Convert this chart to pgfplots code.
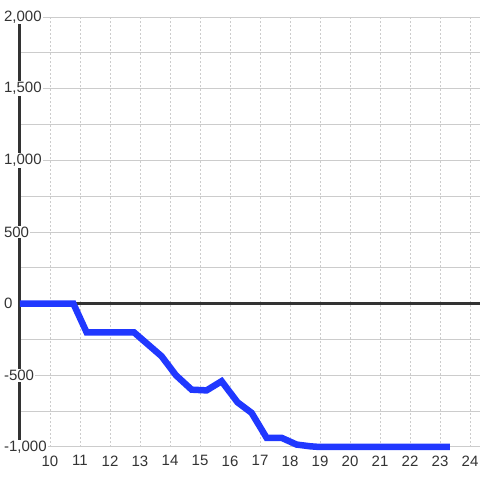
\documentclass[border=0pt]{standalone}
\usepackage{fontspec}
\setmainfont{Liberation Sans}
\usepackage{pgfplots}
\pgfplotsset{compat=1.18}
\definecolor{txt}{HTML}{333333}
\definecolor{gridc}{HTML}{CCCCCC}
\definecolor{lineblue}{RGB}{32,56,255}
\pgfplotsset{
    layers/labelsup/.define layer set={
        axis background,axis grid,axis lines,pre main,main,
        axis ticks,axis tick labels,axis descriptions,axis foreground
    }{/pgfplots/layers/standard},
}
\begin{document}
\begin{tikzpicture}
\begin{axis}[
    set layers=labelsup,
    scale only axis,
    width=460pt, height=430pt,
    xmin=9, xmax=24.333,
    ymin=-1000, ymax=2000,
    axis y line=left,
    axis x line=middle,
    axis line style={-, txt, line width=3pt},
    xtick={10,...,24},
    ytick={-1000,-500,...,2000},
    minor y tick num=1,
    xmajorgrids, ymajorgrids, yminorgrids,
    x grid style={gridc, line width=1pt, dash pattern=on 2pt off 2pt},
    y grid style={gridc, line width=1pt},
    minor y grid style={gridc, line width=1pt},
    tick style={draw=none},
    clip=false,
    /pgf/number format/.cd, assume math mode=true, 1000 sep={,},
    /pgfplots/.cd,
    ticklabel style={font=\fontsize{15}{16}\selectfont, text=txt},
    every y tick label/.append style={anchor=west, xshift=-15pt, fill=white, inner sep=1pt},
    xticklabel style={anchor=north, yshift=-146.3pt},
]
\addplot[lineblue, line width=6.5pt] coordinates {
(9,0) (10.78,0) (11.22,-200) (12.8,-200) (13.72,-367) (14.2,-500)
(14.72,-600) (15.22,-605) (15.72,-541) (16.25,-688) (16.72,-762)
(17.22,-936) (17.72,-936) (18.22,-983) (18.67,-995) (19,-1000) (23.33,-1000)
};
\end{axis}
\pgfresetboundingbox
\useasboundingbox (-20pt,-33pt) rectangle (460pt,447pt);
\end{tikzpicture}
\end{document}
